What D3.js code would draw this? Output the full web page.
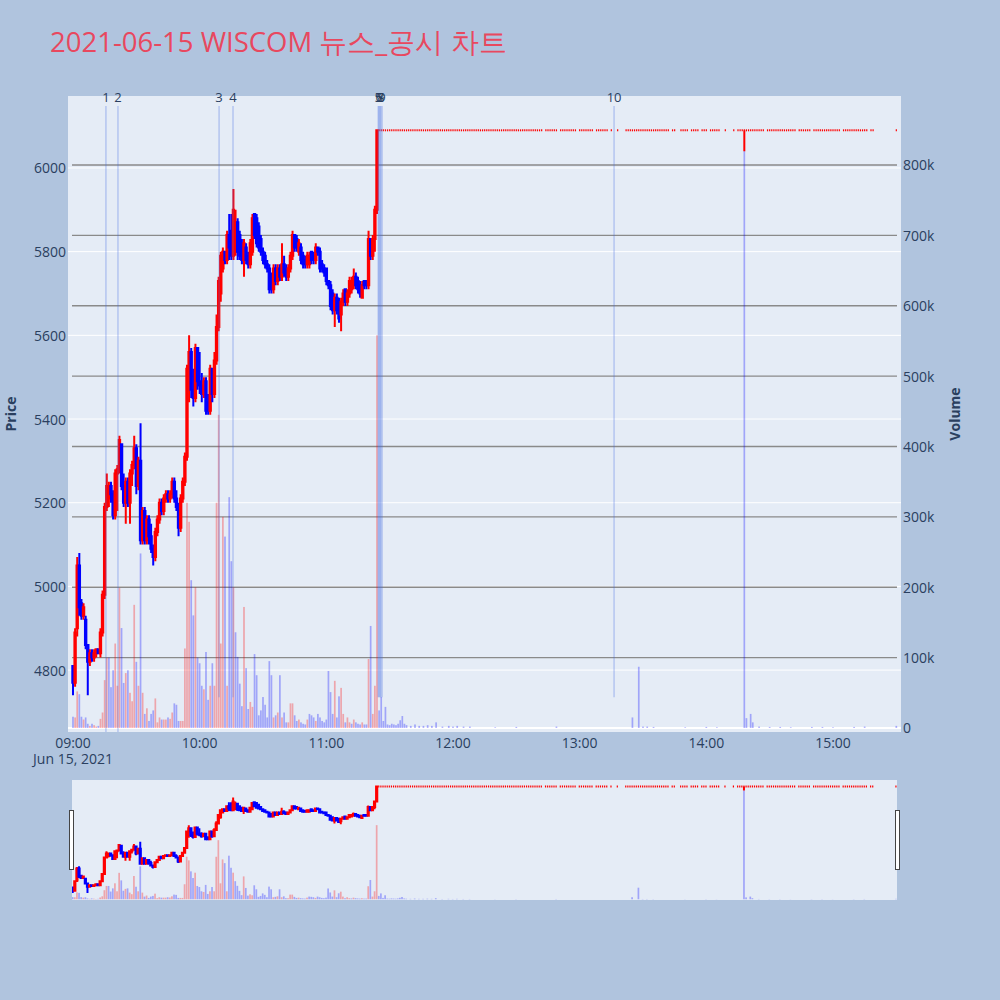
<!DOCTYPE html>
<html><head><meta charset="utf-8">
<script src="https://cdn.jsdelivr.net/npm/d3@7"></script>
<style>body{margin:0;background:#b0c4de;} svg{display:block;font-family:"Open Sans",sans-serif;}</style>
</head><body><svg id="c" width="1000" height="1000"></svg>
<script>
// ---- data (minute candles from 09:00) ----
const sessionDate = [2021, 5, 15];
const openP = [4810,4770,4900,5050,4960,4930,4920,4860,4820,4840,4830,4840,4850,4840,4890,4980,5190,5210,5240,5220,
5170,5270,5280,5340,5240,5200,5250,5200,5270,5290,5330,5240,5300,5110,5180,5110,5160,5120,5090,5070,
5130,5160,5200,5180,5210,5220,5210,5220,5250,5210,5190,5140,5210,5250,5310,5520,5560,5470,5450,5570,
5490,5480,5460,5490,5440,5420,5520,5460,5540,5620,5700,5760,5800,5780,5840,5850,5790,5800,5870,5840,
5820,5780,5810,5790,5770,5800,5890,5880,5860,5830,5800,5790,5770,5760,5740,5710,5760,5730,5760,5740,
5770,5760,5740,5760,5790,5840,5830,5800,5810,5790,5780,5770,5770,5800,5790,5780,5810,5800,5770,5760,
5760,5730,5720,5700,5660,5690,5680,5650,5680,5710,5680,5700,5710,5720,5740,5730,5720,5690,5730,5730,
5720,5830,5790,5830,5900];
const highP = [4810,4900,5070,5080,4970,4960,4930,4860,4850,4850,4850,4850,4850,4900,4990,5200,5270,5250,5250,5230,
5280,5290,5360,5340,5270,5260,5260,5280,5300,5360,5340,5310,5390,5190,5190,5170,5170,5150,5100,5140,
5170,5210,5210,5220,5230,5230,5230,5260,5260,5230,5200,5220,5260,5320,5530,5600,5570,5520,5580,5570,
5560,5510,5500,5500,5460,5530,5520,5560,5650,5740,5800,5810,5800,5850,5890,5890,5950,5900,5880,5850,
5830,5830,5820,5800,5830,5890,5890,5890,5870,5840,5810,5800,5780,5770,5750,5770,5770,5770,5770,5820,
5790,5770,5770,5800,5850,5840,5840,5830,5820,5800,5790,5800,5800,5800,5800,5820,5810,5810,5780,5770,
5760,5730,5730,5710,5700,5700,5690,5690,5710,5710,5710,5740,5740,5760,5750,5740,5730,5730,5730,5730,
5850,5830,5840,5910,6090];
const lowP = [4740,4760,4880,4930,4920,4920,4850,4740,4810,4820,4820,4830,4840,4830,4880,4970,5180,5190,5200,5160,
5160,5180,5270,5230,5190,5150,5190,5150,5240,5280,5220,5230,5100,5100,5100,5100,5100,5080,5050,5060,
5120,5150,5170,5170,5200,5200,5200,5210,5200,5180,5120,5130,5200,5240,5300,5440,5450,5430,5440,5470,
5460,5440,5450,5410,5410,5410,5440,5450,5530,5610,5680,5750,5770,5770,5780,5780,5780,5790,5780,5780,
5770,5740,5770,5760,5760,5790,5830,5810,5800,5790,5770,5760,5750,5700,5700,5700,5720,5720,5730,5730,
5740,5730,5730,5750,5780,5800,5800,5790,5770,5760,5760,5760,5760,5770,5770,5770,5790,5750,5750,5740,
5720,5710,5660,5650,5620,5650,5630,5610,5670,5670,5670,5690,5700,5710,5710,5700,5690,5690,5710,5710,
5710,5780,5780,5800,5890];
const closeP = [4770,4890,5050,4950,4930,4950,4860,4820,4840,4830,4840,4850,4840,4890,4980,5190,5240,5240,5220,5170,
5270,5280,5350,5240,5200,5250,5200,5270,5290,5330,5240,5300,5110,5180,5110,5160,5120,5090,5070,5130,
5160,5200,5180,5210,5220,5210,5220,5250,5210,5190,5140,5210,5250,5310,5520,5560,5470,5450,5570,5490,
5480,5460,5490,5420,5420,5520,5460,5540,5620,5730,5790,5800,5780,5840,5810,5790,5900,5870,5800,5790,
5780,5820,5780,5770,5820,5880,5840,5820,5810,5800,5780,5770,5760,5710,5710,5760,5730,5760,5740,5770,
5750,5740,5760,5790,5840,5810,5810,5820,5780,5770,5770,5790,5790,5780,5780,5810,5800,5760,5760,5750,
5730,5720,5670,5660,5690,5660,5640,5680,5700,5680,5700,5730,5730,5740,5720,5710,5700,5720,5720,5720,
5830,5790,5830,5900,6090];
const volK = [16,15,52,48,16,12,15,6,3,6,4,2,3,13,22,68,100,100,58,82,
120,60,199,142,64,78,82,50,38,175,94,60,248,50,20,28,10,20,25,42,
8,15,12,12,12,15,13,22,35,33,10,10,10,113,320,293,210,160,200,100,
92,60,55,108,40,60,92,60,320,445,120,300,272,60,328,237,200,136,101,63,
31,172,85,27,37,30,105,75,18,25,44,33,15,95,75,15,18,22,75,15,
22,8,8,35,35,18,10,12,8,6,5,12,20,18,15,10,20,15,10,8,
12,81,51,20,67,15,45,57,20,8,15,8,6,12,8,6,5,8,5,5,
98,145,20,60,558];

const limitPrice = 6090;
const limitRuns = [["11:25","12:42"],["12:44","12:49"],["12:51","12:58"],["13:00","13:06"],["13:08","13:13"],
["13:15","13:15"],["13:18","13:18"],["13:22","13:42"],["13:44","13:45"],["13:48","13:51"],["13:53","13:56"],
["13:58","14:00"],["14:02","14:04"],["14:05","14:06"],["14:09","14:09"],["14:13","14:13"],["14:15","14:27"],
["14:29","14:42"],["14:44","14:49"],["14:51","14:58"],["14:59","15:03"],["15:05","15:16"],["15:18","15:19"],
["15:30","15:30"]];
const dipTimes = ["14:18"];
const dipLows = [6040];
const lateVolTimes = ["11:25","11:26","11:27","11:28","11:29","11:30","11:31","11:32","11:33","11:34","11:35","11:36",
"11:37","11:38","11:40","11:42","11:44","11:46","11:48","11:50","11:52","11:55","11:58","12:00","12:02","12:05",
"12:08","12:20","12:30","12:49","13:25","13:28","13:30","13:32","13:35","13:50","14:00","14:05","14:18","14:19",
"14:21","14:22","14:25","14:30","14:35","14:40","14:50","14:55","15:00","15:10","15:15","15:30"];
const lateVolK = [25,44,10,30,5,4,6,5,4,6,11,17,6,4,3,5,3,3,4,3,8,2,3,2,3,2,2,1,1.5,2,15,87,2,2,1.5,1,1.5,1,820,14,
20,8,2,1.5,1.5,1,1.5,1.5,1,1.5,2,3];

const newsTimes = ["09:15:36","09:21:18","10:09:12","10:15:48","11:24:36","11:25:00","11:25:24","11:25:48","11:26:24","13:16:18"];
const newsLabels = ["1","2","3","4","5","6","7","8","9","10"];
const newsBottom = [4652,4652,4735,4735,4735,4735,4735,4735,4735,4735];
const newsTop = 6148;

const priceTicks = [4800,5000,5200,5400,5600,5800,6000];
const volTicks = [0,100000,200000,300000,400000,500000,600000,700000,800000];
const hourTicks = ["09:00","10:00","11:00","12:00","13:00","14:00","15:00"];
const titleText = "2021-06-15 WISCOM 뉴스_공시 차트";

// ---- build records ----
function tm(s){const p=s.split(':').map(Number);return new Date(sessionDate[0],sessionDate[1],sessionDate[2],p[0],p[1],p[2]||0);}
const MIN=60000;
const t0 = tm("09:00");
const candles = openP.map((o,i)=>({t:new Date(+t0+i*MIN),o,h:highP[i],l:lowP[i],c:closeP[i]}));
limitRuns.forEach(([a,b])=>{for(let d=+tm(a);d<=+tm(b);d+=MIN){candles.push({t:new Date(d),o:limitPrice,h:limitPrice,l:limitPrice,c:limitPrice});}});
dipTimes.forEach((s,i)=>{const d=+tm(s);const cd=candles.find(k=>+k.t===d);if(cd){cd.l=dipLows[i];}});
candles.sort((a,b)=>a.t-b.t);
let prevDir=true;
candles.forEach(k=>{if(k.c>k.o)prevDir=true;else if(k.c<k.o)prevDir=false;k.up=prevDir;});
const vols = volK.map((v,i)=>({t:new Date(+t0+i*MIN),v:v*1000}));
vols.forEach((d,i)=>{const prev=i>0?closeP[i-1]:openP[0];d.up=closeP[i]>prev;});
lateVolTimes.forEach((s,i)=>vols.push({t:tm(s),v:lateVolK[i]*1000,up:false}));

// ---- layout ----
const svg=d3.select("#c");
const W=1000,H=1000;
svg.append("rect").attr("width",W).attr("height",H).attr("fill","#b0c4de");
const P={l:68,r:901,t:96,b:732};
const S={l:72,r:897,t:780,b:900};
const x=d3.scaleTime().domain([tm("08:57:38"),tm("15:32:13")]).range([P.l,P.r]);
const y=d3.scaleLinear().domain([4652,6172]).range([P.b,P.t]);
const yv=d3.scaleLinear().domain([-5700,898000]).range([P.b,P.t]);
const xs=d3.scaleTime().domain([tm("08:59:40"),tm("15:30:30")]).range([S.l,S.r]);
const ys=d3.scaleLinear().domain([4652,6172]).range([S.b,S.t]);
const yvs=d3.scaleLinear().domain([-5700,898000]).range([S.b,S.t]);

const RED="#ff0000",BLUE="#0000ff",FONT="#2a3f5f";
const defs=svg.append("defs");
defs.append("clipPath").attr("id","cp").append("rect").attr("x",P.l).attr("y",P.t).attr("width",P.r-P.l).attr("height",P.b-P.t);
defs.append("clipPath").attr("id","cs").append("rect").attr("x",S.l).attr("y",S.t).attr("width",S.r-S.l).attr("height",S.b-S.t);

svg.append("text").attr("x",50).attr("y",41).attr("dominant-baseline","central").attr("font-size",27.5).attr("fill","#e8485f").text(titleText);

svg.append("rect").attr("x",P.l).attr("y",P.t).attr("width",P.r-P.l).attr("height",P.b-P.t).attr("fill","#e5ecf6");
const grid=svg.append("g");
priceTicks.forEach(p=>grid.append("line").attr("x1",P.l).attr("x2",P.r).attr("y1",y(p)).attr("y2",y(p)).attr("stroke","#fff").attr("stroke-width",1));
volTicks.forEach(v=>{if(v===0)return;grid.append("line").attr("x1",P.l+4).attr("x2",P.r-4).attr("y1",yv(v)).attr("y2",yv(v)).attr("stroke","#8a8a8a").attr("stroke-width",1.4);});
grid.append("line").attr("x1",P.l).attr("x2",P.r).attr("y1",yv(0)).attr("y2",yv(0)).attr("stroke","#fff").attr("stroke-width",2);

function drawBars(g,xsc,ysc,bw){
  g.selectAll("rect.v").data(vols).join("rect").attr("class","v")
   .attr("x",d=>xsc(d.t)-bw/2).attr("width",bw)
   .attr("y",d=>ysc(d.v)).attr("height",d=>Math.max(0,ysc(0)-ysc(d.v)))
   .attr("fill",d=>d.up?RED:BLUE).attr("fill-opacity",0.3);
}
function candlePath(d,xsc,ysc,bw,fw){
  const cx=xsc(d.t),yt=ysc(Math.max(d.o,d.c)),yb=ysc(Math.min(d.o,d.c));
  if(d.o===d.c){ // flat candle: short tick plus optional wick
    let s=`M${cx-fw/2},${yt}H${cx+fw/2}`;
    if(d.h!==d.l) s+=`M${cx},${ysc(d.h)}V${ysc(d.l)}`;
    return s;
  }
  const a=cx-bw/2,b=cx+bw/2;
  return `M${cx},${ysc(d.h)}V${yt}M${a},${yt}H${b}V${yb}H${a}ZM${cx},${yb}V${ysc(d.l)}`;
}
function drawCandles(g,xsc,ysc,bw,fw,sw){
  g.selectAll("path.k").data(candles).join("path").attr("class","k")
    .attr("d",d=>candlePath(d,xsc,ysc,bw,fw))
    .attr("fill",d=>d.up?RED:BLUE).attr("stroke",d=>d.up?RED:BLUE).attr("stroke-width",sw);
}
const mainG=svg.append("g").attr("clip-path","url(#cp)");
drawBars(mainG.append("g"),x,yv,1.7);
drawCandles(mainG.append("g"),x,y,1.4,1.2,2);

const newsG=svg.append("g");
newsTimes.forEach((s,i)=>{
  const xx=x(tm(s));
  newsG.append("line").attr("x1",xx).attr("x2",xx).attr("y1",y(newsTop)).attr("y2",y(newsBottom[i]))
    .attr("stroke","#4169e1").attr("stroke-opacity",0.3).attr("stroke-width",1.5);
  newsG.append("text").attr("x",xx).attr("y",97).attr("text-anchor","middle").attr("dominant-baseline","central")
    .attr("font-size",13).attr("fill",FONT).text(newsLabels[i]);
});

const ax=svg.append("g").attr("font-size",14).attr("fill",FONT);
priceTicks.forEach(p=>ax.append("text").attr("x",66).attr("y",y(p)).attr("text-anchor","end").attr("dominant-baseline","central").text(p));
volTicks.forEach(v=>ax.append("text").attr("x",903).attr("y",yv(v)).attr("text-anchor","start").attr("dominant-baseline","central").text(v===0?"0":(v/1000)+"k"));
hourTicks.forEach((h,i)=>{
  const xx=x(tm(h));
  ax.append("text").attr("x",xx).attr("y",742).attr("text-anchor","middle").attr("dominant-baseline","central").text(h);
  if(i===0) ax.append("text").attr("x",xx).attr("y",758).attr("text-anchor","middle").attr("dominant-baseline","central").text("Jun 15, 2021");
});
svg.append("text").attr("transform","translate(10,414) rotate(-90)").attr("text-anchor","middle").attr("dominant-baseline","central")
  .attr("font-size",14).attr("font-weight","bold").attr("fill",FONT).text("Price");
svg.append("text").attr("transform","translate(954,414) rotate(-90)").attr("text-anchor","middle").attr("dominant-baseline","central")
  .attr("font-size",14).attr("font-weight","bold").attr("fill",FONT).text("Volume");

svg.append("rect").attr("x",S.l).attr("y",S.t).attr("width",S.r-S.l).attr("height",S.b-S.t).attr("fill","#e5ecf6");
const sG=svg.append("g").attr("clip-path","url(#cs)");
drawBars(sG.append("g"),xs,yvs,1.7);
drawCandles(sG.append("g"),xs,ys,1.2,1.2,2);
[S.l-2.5,S.r-1.5].forEach(hx=>svg.append("rect").attr("x",hx).attr("y",810.5).attr("width",4).attr("height",59)
  .attr("fill","#fff").attr("stroke","#444").attr("stroke-width",1));
</script></body></html>
